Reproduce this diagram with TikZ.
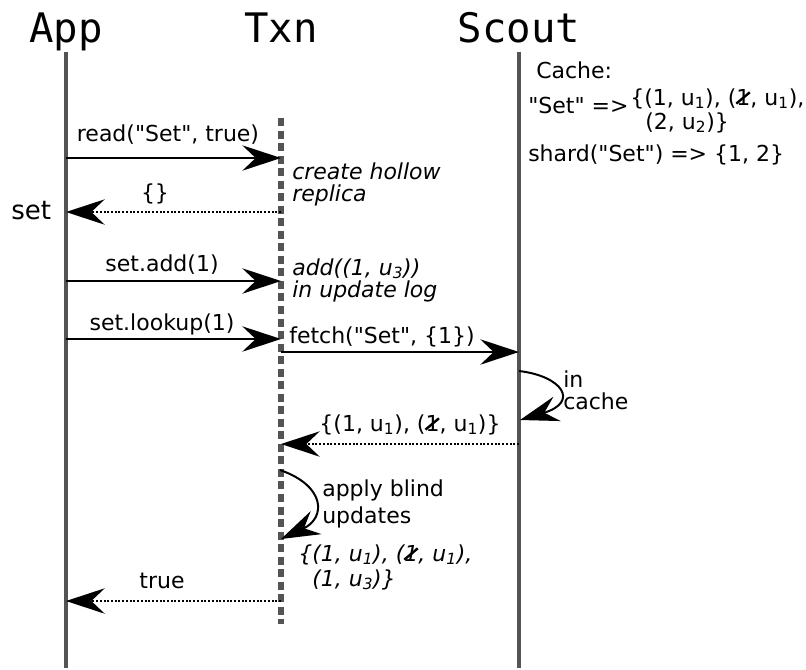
\documentclass[tikz,border=0pt]{standalone}
\usepackage{fontspec}
\usepackage{graphicx}
\setmainfont{DejaVu Sans}[Ligatures=TeXOff]
\newfontfamily\headfont{DejaVu Sans Mono}[Ligatures=TeXOff]
\usetikzlibrary{arrows.meta}

% a "1" crossed out by a diagonal stroke
\newcommand{\crossedone}{\makebox[0pt][l]{\hspace{-0.04em}\raisebox{0.02em}{\rotatebox{40}{\rule{0.8em}{0.11em}}}}1}

\begin{document}
\begin{tikzpicture}[x=0.75pt,y=-0.75pt,
  head/.style={font=\headfont\fontsize{30.5}{34}\selectfont, inner sep=0pt},
  lbl/.style={font=\fontsize{16.5}{19}\selectfont, inner sep=0pt},
  biglbl/.style={font=\fontsize{19.5}{22}\selectfont, inner sep=0pt},
  note/.style={font=\fontsize{16.5}{19}\selectfont\itshape, inner sep=0pt},
  life/.style={draw=black!67, line width=2.6pt},
  txnlife/.style={draw=black!67, line width=4pt, dash pattern=on 6pt off 3.4pt},
  tip/.style={-{Stealth[length=29pt,width=19pt,inset=10pt]}},
  msg/.style={tip, line width=1.5pt},
  ret/.style={tip, line width=1.5pt, dash pattern=on 1.5pt off 1.3pt},
  loop/.style={tip, line width=1.5pt}]
\useasboundingbox (0,0) rectangle (806,669);

% participants
\node[head, anchor=base] (app) at (66,42) {App};
\node[head, anchor=base] (txn) at (281,42) {Txn};
\node[head, anchor=base] (scout) at (519,42) {Scout};

% lifelines
\coordinate (appTop) at (66,52);
\coordinate (appBot) at (66,668);
\coordinate (txnTop) at (281,118);
\coordinate (txnBot) at (281,624);
\coordinate (scoutTop) at (519,52);
\coordinate (scoutBot) at (519,668);
\draw[life] (appTop) -- (appBot);
\draw[life] (scoutTop) -- (scoutBot);
\draw[txnlife] (txnTop) -- (txnBot);

% message end points
\coordinate (a1) at (66,158);  \coordinate (t1) at (281,158);
\coordinate (t2) at (281,212); \coordinate (a2) at (66,212);
\coordinate (a3) at (66,281);  \coordinate (t3) at (281,281);
\coordinate (a4) at (66,339);  \coordinate (t4) at (281,339);
\coordinate (t5) at (281,352); \coordinate (s5) at (519,352);
\coordinate (s6) at (519,371); \coordinate (s7) at (520,420);
\coordinate (s8) at (519,444); \coordinate (t8) at (281,444);
\coordinate (t9) at (280,470); \coordinate (t10) at (281,539);
\coordinate (t11) at (281,601); \coordinate (a11) at (66,601);

% messages
\draw[msg] (a1) -- (t1);
\node[lbl, anchor=base] (lread) at (168,141) {read("Set", true)};
\draw[ret] (t2) -- (a2);
\node[lbl, anchor=base] (lempty) at (155,200) {\{\}};
\node[biglbl, anchor=base west] (lset) at (11,219) {set};
\draw[msg] (a3) -- (t3);
\node[lbl, anchor=base] (ladd) at (162,271) {set.add(1)};
\draw[msg] (a4) -- (t4);
\node[lbl, anchor=base] (llookup) at (162,330) {set.lookup(1)};
\draw[msg] (t5) -- (s5);
\node[lbl, anchor=base west] (lfetch) at (289,343) {fetch("Set", \{1\})};
\draw[loop] (s6) .. controls (562,376) and (580,402) .. (s7);
\node[lbl, anchor=base west] (lin) at (563,387) {in};
\node[lbl, anchor=base west] (lcache) at (563,409) {cache};
\draw[ret] (s8) -- (t8);
\node[lbl, anchor=base] (lreply) at (410,431) {\{(1, u\textsubscript{1}), (\crossedone, u\textsubscript{1})\}};
\draw[loop] (t9) .. controls (326,486) and (326,518) .. (t10);
\node[lbl, anchor=base west] (lapply) at (322,496) {apply blind};
\node[lbl, anchor=base west] (lupd) at (322,523) {updates};
\draw[ret] (t11) -- (a11);
\node[lbl, anchor=base] (ltrue) at (162,588) {true};

% notes on the Txn side
\node[note, anchor=base west] (n1) at (292,179) {create hollow};
\node[note, anchor=base west] (n2) at (292,201) {replica};
\node[note, anchor=base west] (n3) at (292,275) {add((1, u\textsubscript{3}))};
\node[note, anchor=base west] (n4) at (292,297) {in update log};
\node[note, anchor=base west] (n5) at (298,561) {\{(1, u\textsubscript{1}), (\crossedone, u\textsubscript{1}),};
\node[note, anchor=base west] (n6) at (312,586) {(1, u\textsubscript{3})\}};

% cache contents
\node[lbl, anchor=base west] (c1) at (536,78) {Cache:};
\node[lbl, anchor=base west] (c2) at (528,113) {"Set" =>};
\node[lbl, anchor=base west] (c3) at (630,105) {\{(1, u\textsubscript{1}), (\crossedone, u\textsubscript{1}),};
\node[lbl, anchor=base west] (c4) at (645,129) {(2, u\textsubscript{2})\}};
\node[lbl, anchor=base west] (c5) at (528,161) {shard("Set") => \{1, 2\}};
\end{tikzpicture}
\end{document}
